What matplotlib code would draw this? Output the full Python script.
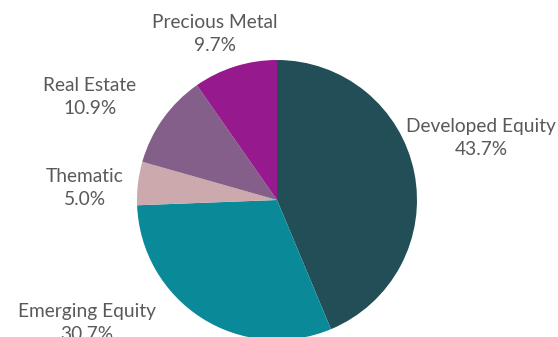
import matplotlib
matplotlib.use("Agg")
import matplotlib.pyplot as plt

categories = ["Developed Equity", "Emerging Equity", "Thematic", "Real Estate", "Precious Metal"]
values = [43.7, 30.7, 5.0, 10.9, 9.7]
colors = ["#224F57", "#0A8A98", "#CBA9AD", "#845F8A", "#97198E"]

fig = plt.figure(figsize=(5.58, 3.37), dpi=100)
ax = fig.add_axes([0, 0, 1, 1])
ax.axis("off")

R = 140.0
cx, cy = 277, 200  # pixel center (from top)

ax.pie(values, colors=colors, startangle=90, counterclock=False, radius=1.0,
       wedgeprops=dict(linewidth=0), frame=False)
ax.set_xlim(-cx / R, (558 - cx) / R)
ax.set_ylim(-(337 - cy) / R, cy / R)
ax.set_aspect("auto")

label_pos = [(1.457, 0.443), (-1.357, -0.879), (-1.371, 0.086), (-1.336, 0.736), (-0.443, 1.186)]
for name, v, (x, y) in zip(categories, values, label_pos):
    ax.text(x, y, f"{name}\n{v:.1f}%", ha="center", va="center", fontsize=13.8,
            family="Lato", color="#595959", linespacing=1.45)

fig.savefig("out.png", dpi=100)
